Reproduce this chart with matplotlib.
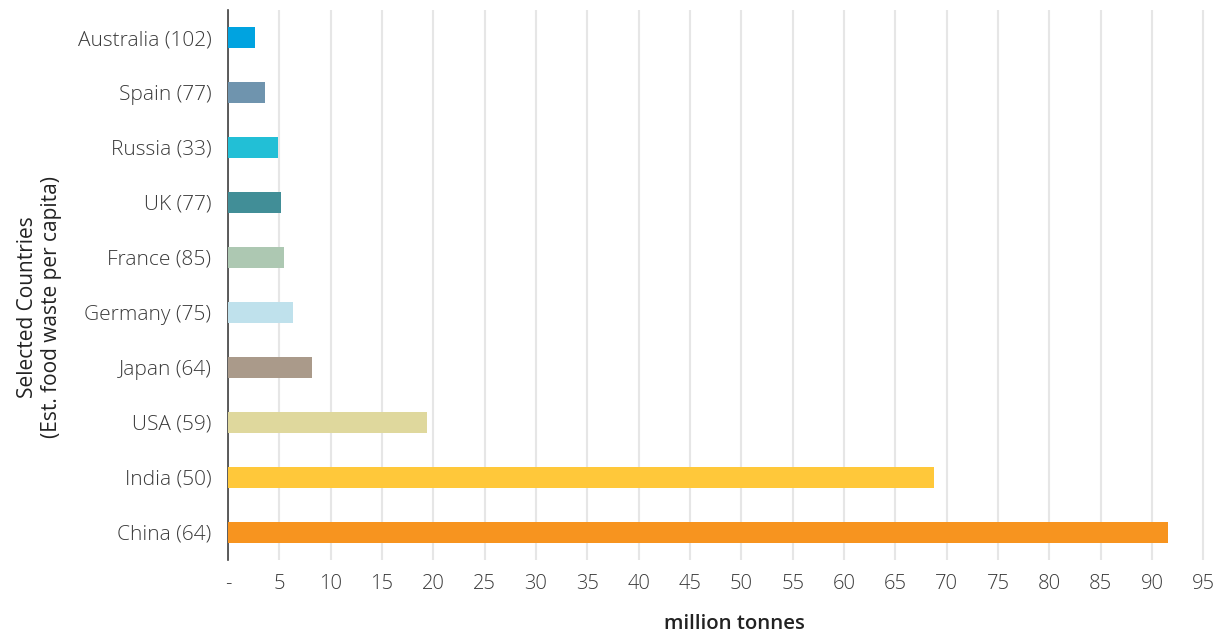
import matplotlib
matplotlib.use("Agg")
import matplotlib.pyplot as plt

countries = ["China (64)", "India (50)", "USA (59)", "Japan (64)", "Germany (75)",
             "France (85)", "UK (77)", "Russia (33)", "Spain (77)", "Australia (102)"]
waste_mt = [91.6, 68.8, 19.4, 8.2, 6.3, 5.5, 5.2, 4.9, 3.6, 2.6]
bar_colors = ["#F7941F", "#FFC83A", "#DFD89D", "#AA9A8A", "#BFE1EC",
              "#ADC8B2", "#418E97", "#22BFD6", "#6F94AE", "#00A3E0"]
xticks = list(range(0, 100, 5))
xtick_labels = ["-"] + [str(t) for t in xticks[1:]]

plt.rcParams['font.family'] = ['Open Sans', 'DejaVu Sans']

fig = plt.figure(figsize=(12.22, 6.37), dpi=100)
ax = fig.add_axes([0.1866, 0.1209, 0.8065, 0.8634])

ax.barh(range(len(countries)), waste_mt, height=0.38, color=bar_colors, zorder=3)

ax.set_xlim(0, 96)
ax.set_ylim(-0.5, len(countries) - 0.5)
ax.set_xticks(xticks)
ax.set_xticklabels(xtick_labels)
ax.set_yticks(range(len(countries)))
ax.set_yticklabels(countries)

ax.grid(axis='x', color='#e6e6e6', linewidth=1.5, zorder=0)
for s in ['top', 'right', 'bottom']:
    ax.spines[s].set_visible(False)
ax.spines['left'].set_color('#404040')
ax.spines['left'].set_linewidth(1.2)
ax.tick_params(axis='both', length=0, colors='#3a3a3a')
ax.tick_params(axis='x', pad=10, labelsize=14.5)
ax.tick_params(axis='y', pad=12, labelsize=15)
for lbl in ax.get_xticklabels() + ax.get_yticklabels():
    lbl.set_fontweight('light')

ax.set_xlabel("million tonnes", fontsize=14.7, fontweight='semibold', color='#222222')
ax.xaxis.set_label_coords(0.514, -0.098)
ax.set_ylabel("Selected Countries\n(Est. food waste per capita)", fontsize=15,
              color='#222222')
ax.yaxis.set_label_coords(-0.168, 0.46)

fig.savefig("out.png", dpi=100)
